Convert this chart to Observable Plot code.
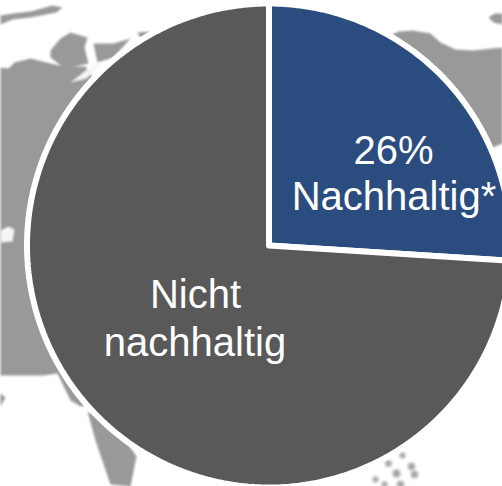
<!DOCTYPE html>
<html>
<head>
<meta charset="utf-8">
<script src="https://cdn.jsdelivr.net/npm/d3@7"></script>
<script src="https://cdn.jsdelivr.net/npm/@observablehq/plot@0.6"></script>
<style>
html,body{margin:0;padding:0;background:#fff}
.land{filter:blur(.8px)}
.land-soft{filter:blur(1.5px)}
</style>
</head>
<body>
<div id="chart"></div>
<script>
// Pie values
const sliceNames = ["Nachhaltig", "Nicht nachhaltig"];
const sliceValues = [26, 74];
const sliceColors = ["#2b4c7e", "#595959"];

// Backdrop map outlines
const landArctic = [[0,15],[12,13],[30,11],[52,5],[62,7],[56,12],[30,17],[12,19],[0,24]];
const landScandinavia = [[50,50],[60,38],[70,32],[87,37],[84,47],[88,63],[64,68],[50,57]];
const landFinland = [[93,43],[113,43],[130,38],[113,57],[97,62]];
const landKola = [[137,32],[150,31],[140,38]];
const landMain = [[0,67],[8,68],[14,62],[30,58],[50,63],[63,66],[85,66],[120,120],[120,400],[80,406],[70,400],[57,373],[43,375],[0,375]];
const landIndia = [[87,411],[95,440],[110,484],[130,486],[136,456],[132,450],[110,420]];
const landSmall = [[0,393],[5,397],[0,406]];
const landEast = [[390,35],[398,31],[412,30],[430,33],[440,42],[455,49],[472,50],[502,47],[502,143],[490,148],[440,170],[390,100]];
const landIsland = [[488,17],[494,13],[502,13],[502,24],[493,22]];
const streakWhite = [[70,82],[86,78],[101,64],[96,62],[84,71]];
const lakeWest = [[0,230],[8,226],[14,229],[12,241],[0,242]];
const speckles = [[375,479,2],[388,463,2.5],[396,473,3.5],[402,455,2],[411,466,3],[414,474,3],[400,484,3],[384,484,2]];

const lands = [landArctic, landScandinavia, landFinland, landKola, landMain, landIndia, landSmall, landEast, landIsland]
  .flatMap((shape, i) => shape.map(([x, y]) => ({x, y, shape: i})));
const whites = [lakeWest, streakWhite]
  .flatMap((shape, i) => shape.map(([x, y]) => ({x, y, shape: i})));

const cx = 268.5, cy = 245, radius = 242;
const total = d3.sum(sliceValues);
let running = 0;
const slicePoints = sliceValues.flatMap((v, i) => {
  const a0 = running / total * 2 * Math.PI;
  running += v;
  const a1 = running / total * 2 * Math.PI;
  const steps = Math.ceil((a1 - a0) / (Math.PI / 240));
  const pts = [{x: cx, y: cy, name: sliceNames[i]}];
  for (let k = 0; k <= steps; k++) {
    const a = a0 + (a1 - a0) * k / steps;
    pts.push({x: cx + radius * Math.sin(a), y: cy - radius * Math.cos(a), name: sliceNames[i]});
  }
  pts.push({x: cx, y: cy, name: sliceNames[i]});
  return pts;
});

const textOpts = {fill: "#fff", fontFamily: "Liberation Sans, Arial, sans-serif", fontSize: 40, textAnchor: "middle", lineAnchor: "bottom"};

const plot = Plot.plot({
  width: 502,
  height: 486,
  margin: 0,
  x: {domain: [0, 502], range: [0, 502], axis: null},
  y: {domain: [0, 486], range: [0, 486], axis: null},
  color: {domain: sliceNames, range: sliceColors},
  style: {background: "#fff"},
  marks: [
    Plot.dot(speckles, {x: d => d[0], y: d => d[1], r: d => d[2], fill: "#a4a4a4", className: "land-soft"}),
    Plot.line(lands, {x: "x", y: "y", z: "shape", fill: "#999", stroke: null, curve: "linear-closed", className: "land"}),
    Plot.line(whites, {x: "x", y: "y", z: "shape", fill: "#f6f6f6", stroke: null, curve: "linear-closed", className: "land"}),
    Plot.line(slicePoints, {x: "x", y: "y", z: "name", fill: "name", stroke: "#fff", strokeWidth: 6, strokeLinejoin: "miter", curve: "linear"}),
    Plot.text(["26%"], {...textOpts, x: () => 393, y: () => 163}),
    Plot.text(["Nachhaltig*"], {...textOpts, x: () => 393.5, y: () => 209}),
    Plot.text(["Nicht"], {...textOpts, x: () => 195, y: () => 307}),
    Plot.text(["nachhaltig"], {...textOpts, x: () => 194.5, y: () => 355})
  ]
});
document.getElementById("chart").appendChild(plot);
</script>
</body>
</html>
